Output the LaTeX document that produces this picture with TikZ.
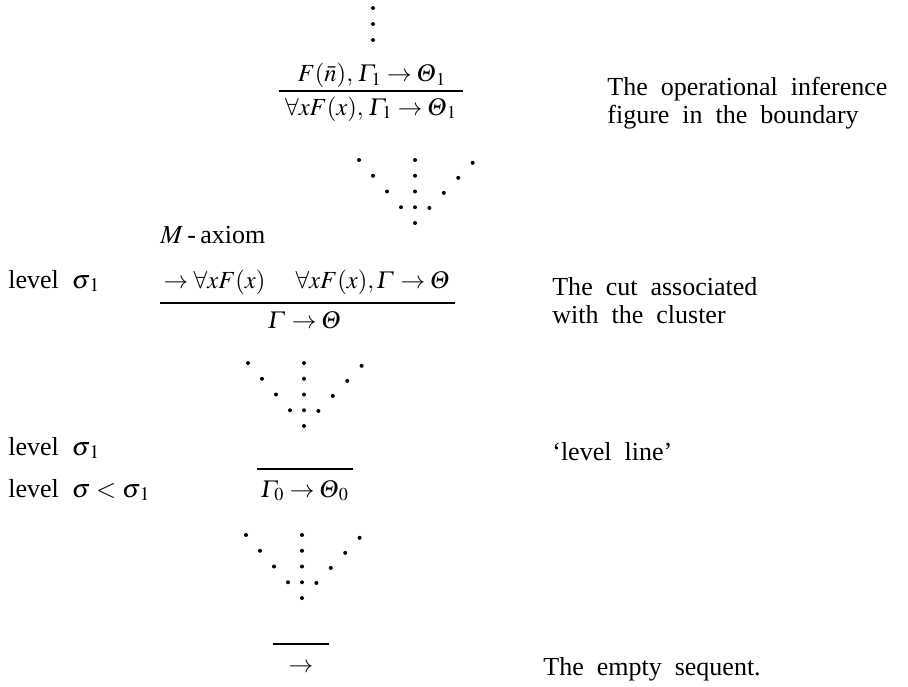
\documentclass[tikz,border=0pt]{standalone}
\usepackage{amsmath}
\usepackage{mathptmx}
\usepackage{fontspec}
\setmainfont{Liberation Serif}
\usetikzlibrary{positioning}
\newcommand{\widesp}{\spaceskip=0.5em plus 0.1em\relax}
\tikzset{
  txt/.style={anchor=base west, inner sep=0pt,
              font=\fontsize{14.8}{17}\selectfont\widesp},
  frm/.style={anchor=base, inner sep=0pt, font=\fontsize{14}{17}\selectfont},
  rule/.style={line width=0.9pt},
  pt/.style={fill=black},
}
\newcommand{\dotfan}[2]{%
  \foreach \i in {0,...,4}
    \fill[pt] (#1,#2+15.75*\i) circle (2);
  \foreach \i in {0,...,3} {
    \fill[pt] (#1-14*4+14*\i,#2+15.75*\i) circle (2);
    \fill[pt] (#1+14.4*4-14.4*\i,#2+15.75*\i+2.8-0.7*\i) circle (2);
  }%
}
\newcommand{\Gm}{\varGamma}
\newcommand{\Th}{\varTheta}
\newcommand{\lowix}[1]{_{\,#1}}

\begin{document}
\begin{tikzpicture}[x=0.02cm, y=-0.02cm]
  \useasboundingbox (0,0) rectangle (908,686);
  \foreach \y in {8,24,40} \fill[pt] (373,\y) circle (2);
  \node[frm] (num1) at (372,82)  {$F(\bar{n}),\,\Gm\lowix1\to\Th\lowix1$};
  \node[frm] (den1) at (371,115) {$\forall xF(x),\,\Gm\lowix1\to\Th\lowix1$};
  \draw[rule] (279,91) -- (463,91);
  \node[txt] (opinf) at (607,95)  {The operational inference};
  \node[txt] (bound) at (607,123) {figure in the boundary};
  \dotfan{415}{160}
  \node[txt] (max)  at (160,243) {$M$\,-\,axiom};
  \node[txt] (lvla) at (8,288)   {level $\sigma\lowix1$};
  \node[frm] (num2) at (307,288) {$\to\forall xF(x)\quad\;\forall xF(x),\Gm\to\Th$};
  \draw[rule] (160,303) -- (455,303);
  \node[frm] (den2) at (305,328) {$\Gm\to\Th$};
  \node[txt] (cut)  at (552,295) {The cut associated};
  \node[txt] (clus) at (552,323) {with the cluster};
  \dotfan{304}{363}
  \node[txt] (lvlb) at (8,455)   {level $\sigma\lowix1$};
  \node[txt] (lvlc) at (8,497)   {level $\sigma<\sigma\lowix1$};
  \draw[rule] (257,469) -- (353,469);
  \node[frm] (seq0) at (305,497) {$\Gm\lowix0\to\Th\lowix0$};
  \node[txt] (lvll) at (552,460) {`level line'};
  \dotfan{302}{535}
  \draw[rule] (273,644) -- (329,644);
  \node[frm] (empty) at (301,672) {$\to$};
  \node[txt] (emps) at (543,675) {The empty sequent.};
\end{tikzpicture}
\end{document}
